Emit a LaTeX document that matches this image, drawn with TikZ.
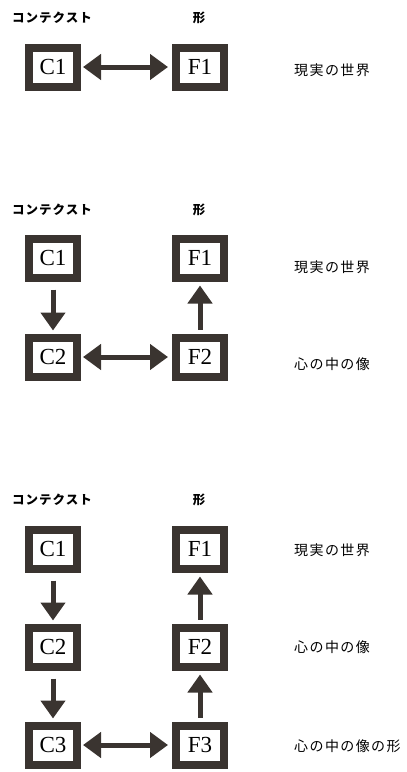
\documentclass[tikz,border=0pt]{standalone}
\usepackage{fontspec}
\setmainfont{Liberation Serif}
\newfontfamily\jp[LetterSpace=10]{Noto Sans CJK JP}
\newfontfamily\jph[LetterSpace=8]{Noto Sans CJK JP}
\usetikzlibrary{arrows.meta}
\definecolor{ink}{HTML}{3A3430}
\tikzset{
  fbox/.style={draw=ink, line width=8pt, fill=white, minimum width=48pt, minimum height=39pt, inner sep=0pt, font=\fontsize{23}{23}\selectfont},
  arr/.style={draw=ink, line width=5pt, -{Triangle[width=24pt,length=18pt]}},
  darr/.style={draw=ink, line width=5pt, {Triangle[width=25pt,length=18pt]}-{Triangle[width=25pt,length=18pt]}},
  head/.style={font=\jph\bfseries\fontsize{12.5}{12.5}\selectfont, anchor=west, inner sep=0pt},
  headf/.style={font=\jph\bfseries\fontsize{12.5}{12.5}\selectfont, inner sep=0pt},
  lab/.style={font=\jp\fontsize{14}{14}\selectfont, anchor=west, inner sep=0pt}
}
\begin{document}
\begin{tikzpicture}[x=1pt,y=-1pt]
\useasboundingbox (0,0) rectangle (407,772);
% panel 1
\node[head] (h1) at (12,18) {コンテクスト};
\node[headf] (k1) at (199,18) {形};
\node[fbox] (aC1) at (53,67) {C1};
\node[fbox] (aF1) at (200,67) {F1};
\node[lab] (aL1) at (294,70) {現実の世界};
\draw[darr] ([xshift=2pt]aC1.east) -- ([xshift=-4pt]aF1.west);
% panel 2
\node[head] (h2) at (12,210) {コンテクスト};
\node[headf] (k2) at (199,210) {形};
\node[fbox] (bC1) at (53,258) {C1};
\node[fbox] (bF1) at (200,258) {F1};
\node[fbox] (bC2) at (53,357) {C2};
\node[fbox] (bF2) at (200,357) {F2};
\node[lab] (bL1) at (294,267) {現実の世界};
\node[lab] (bL2) at (294,364) {心の中の像};
\draw[arr] ([yshift=-8pt]bC1.south) -- ([yshift=3pt]bC2.north);
\draw[arr] ([yshift=4pt]bF2.north) -- ([yshift=-4pt]bF1.south);
\draw[darr] ([xshift=2pt]bC2.east) -- ([xshift=-4pt]bF2.west);
% panel 3
\node[head] (h3) at (12,500) {コンテクスト};
\node[headf] (k3) at (199,500) {形};
\node[fbox] (cC1) at (53,549) {C1};
\node[fbox] (cF1) at (200,549) {F1};
\node[fbox] (cC2) at (53,647) {C2};
\node[fbox] (cF2) at (200,647) {F2};
\node[fbox] (cC3) at (53,745) {C3};
\node[fbox] (cF3) at (200,745) {F3};
\node[lab] (cL1) at (294,550) {現実の世界};
\node[lab] (cL2) at (294,647) {心の中の像};
\node[lab] (cL3) at (294,746) {心の中の像の形};
\draw[arr] ([yshift=-8pt]cC1.south) -- ([yshift=3pt]cC2.north);
\draw[arr] ([yshift=-8pt]cC2.south) -- ([yshift=3pt]cC3.north);
\draw[arr] ([yshift=4pt]cF3.north) -- ([yshift=-4pt]cF2.south);
\draw[arr] ([yshift=4pt]cF2.north) -- ([yshift=-4pt]cF1.south);
\draw[darr] ([xshift=2pt]cC3.east) -- ([xshift=-4pt]cF3.west);
\end{tikzpicture}
\end{document}
